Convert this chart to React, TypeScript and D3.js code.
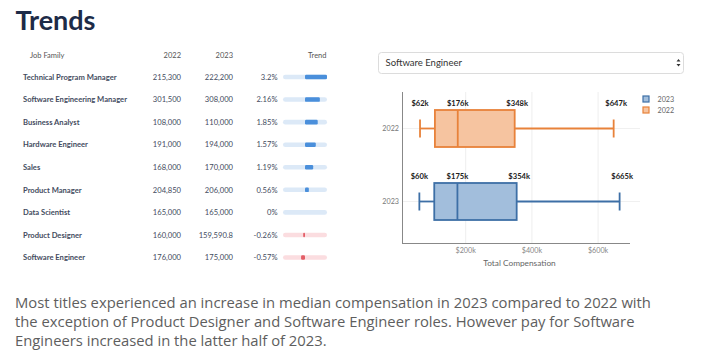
import React from "react";
import * as d3 from "d3";

const jobFamilies = [
  "Technical Program Manager",
  "Software Engineering Manager",
  "Business Analyst",
  "Hardware Engineer",
  "Sales",
  "Product Manager",
  "Data Scientist",
  "Product Designer",
  "Software Engineer",
];
const values2022 = [215300, 301500, 108000, 191000, 168000, 204850, 165000, 160000, 176000];
const values2023 = [222200, 308000, 110000, 194000, 170000, 206000, 165000, 159590.8, 175000];
const pctChanges = [3.2, 2.16, 1.85, 1.57, 1.19, 0.56, 0, -0.26, -0.57];

const boxYears = ["2022", "2023"];
const boxMin = [62, 60];
const boxQ1 = [107, 105];
const boxMedian = [176, 175];
const boxQ3 = [348, 354];
const boxMax = [647, 665];
const xTicks = [200, 400, 600];

const paragraphLines = [
  "Most titles experienced an increase in median compensation in 2023 compared to 2022 with",
  "the exception of Product Designer and Software Engineer roles. However pay for Software",
  "Engineers increased in the latter half of 2023.",
];

const boxColors: Record<string, { stroke: string; fill: string }> = {
  "2022": { stroke: "#e8823a", fill: "#f6c4a0" },
  "2023": { stroke: "#3d6fa6", fill: "#a2bedc" },
};

export default function App() {
  const font = "Lato, 'Open Sans', sans-serif";
  const rowY = d3.scalePoint<string>().domain(jobFamilies).range([77, 257.5]);
  const trend = d3.scaleLinear().domain([-3.2, 3.2]).range([283, 327]);
  const fmt = d3.format(",");

  const x = d3.scaleLinear().domain([0, 700]).range([399.5, 631.2]);
  const y = d3.scalePoint<string>().domain(boxYears).range([92, 238]).padding(0.5);
  const boxH = 37;
  const capH = 18;

  return (
    <div style={{ position: "absolute", left: 0, top: 0 }}>
      <svg width={720} height={355} style={{ display: "block", background: "#fff" }} fontFamily={font}>
        <text x={15.5} y={30} fontSize={27} fontWeight={700} fill="#1d2b48">Trends</text>

        {/* table header */}
        <g fontSize={7.5} fill="#555">
          <text x={30} y={58}>Job Family</text>
          <text x={181} y={58} textAnchor="end">2022</text>
          <text x={233} y={58} textAnchor="end">2023</text>
          <text x={326.5} y={58} textAnchor="end">Trend</text>
        </g>

        {jobFamilies.map((name, i) => {
          const cy = rowY(name)!;
          const v = pctChanges[i];
          const pos = v >= 0;
          const x0 = trend(0);
          const x1 = trend(v);
          return (
            <g key={name}>
              <text x={23} y={cy + 2.8} fontSize={7.6} fontWeight={700} fill="#434b5e">{name}</text>
              <text x={181} y={cy + 2.8} fontSize={7.6} fill="#434b5e" textAnchor="end">{fmt(values2022[i])}</text>
              <text x={233} y={cy + 2.8} fontSize={7.6} fill="#434b5e" textAnchor="end">{fmt(values2023[i])}</text>
              <text x={277.5} y={cy + 2.8} fontSize={7.6} fill="#434b5e" textAnchor="end">{v + "%"}</text>
              <rect x={trend(-3.2)} y={cy - 2.3} width={trend(3.2) - trend(-3.2)} height={4.6} rx={2.3}
                fill={pos ? "#dce9f7" : "#fbdde0"} />
              {v !== 0 && (
                <rect x={Math.min(x0, x1)} y={cy - 2.3} width={Math.max(Math.abs(x1 - x0), 1.6)} height={4.6} rx={1.2}
                  fill={pos ? "#4a8fdb" : "#e35d66"} />
              )}
            </g>
          );
        })}

        {/* select */}
        <rect x={378.5} y={52.5} width={305} height={21} rx={3} fill="#fff" stroke="#dcdcdc" />
        <text x={385.5} y={66.3} fontSize={9.5} fill="#333">Software Engineer</text>
        <path d="M676.5,61.5 L678.5,59 L680.5,61.5 Z M676.5,64 L678.5,66.5 L680.5,64 Z" fill="#333" />

        {/* box plot grid */}
        {xTicks.map((t) => (
          <line key={t} x1={x(t)} x2={x(t)} y1={92} y2={243} stroke="#eeeeee" />
        ))}
        {boxYears.map((yr) => (
          <line key={yr} x1={402} x2={640} y1={y(yr)!} y2={y(yr)!} stroke="#f0f0f0" />
        ))}
        <line x1={402.5} x2={402.5} y1={92} y2={244} stroke="#888" />
        <line x1={402} x2={630} y1={243.5} y2={243.5} stroke="#888" />

        {xTicks.map((t) => (
          <text key={t} x={x(t)} y={252.5} fontSize={7.2} fill="#888" textAnchor="middle">{"$" + t + "k"}</text>
        ))}
        <text x={519.5} y={266} fontSize={8.3} fill="#666" textAnchor="middle">Total Compensation</text>

        {boxYears.map((yr, i) => {
          const cy = y(yr)!;
          const c = boxColors[yr];
          const labelY = cy - boxH / 2 - 4.5;
          return (
            <g key={yr}>
              <text x={399} y={cy + 2.5} fontSize={7.2} fill="#777" textAnchor="end">{yr}</text>
              <line x1={x(boxMin[i])} x2={x(boxQ1[i])} y1={cy} y2={cy} stroke={c.stroke} strokeWidth={1.8} />
              <line x1={x(boxQ3[i])} x2={x(boxMax[i])} y1={cy} y2={cy} stroke={c.stroke} strokeWidth={1.8} />
              <line x1={x(boxMin[i])} x2={x(boxMin[i])} y1={cy - capH / 2} y2={cy + capH / 2} stroke={c.stroke} strokeWidth={1.8} />
              <line x1={x(boxMax[i])} x2={x(boxMax[i])} y1={cy - capH / 2} y2={cy + capH / 2} stroke={c.stroke} strokeWidth={1.8} />
              <rect x={x(boxQ1[i])} y={cy - boxH / 2} width={x(boxQ3[i]) - x(boxQ1[i])} height={boxH}
                fill={c.fill} stroke={c.stroke} strokeWidth={1.8} />
              <line x1={x(boxMedian[i])} x2={x(boxMedian[i])} y1={cy - boxH / 2} y2={cy + boxH / 2} stroke={c.stroke} strokeWidth={1.8} />
              {[boxMin[i], boxMedian[i], boxQ3[i], boxMax[i]].map((v, j) => (
                <text key={j} x={x(v) + (j >= 2 ? 2.5 : 0)} y={labelY} fontSize={7.6} fontWeight={700} fill="#222" textAnchor="middle">
                  {"$" + v + "k"}
                </text>
              ))}
            </g>
          );
        })}

        {/* legend */}
        {["2023", "2022"].map((yr, i) => (
          <g key={yr}>
            <rect x={643} y={96 + i * 11} width={6} height={6} fill={boxColors[yr].fill} stroke={boxColors[yr].stroke} strokeWidth={1.2} />
            <text x={657.5} y={101.8 + i * 11} fontSize={7.2} fill="#666">{yr}</text>
          </g>
        ))}

        {/* paragraph */}
        {paragraphLines.map((line, i) => (
          <text key={i} x={15} y={308 + i * 19} fontSize={14.8} fill="#5e5e5e" fontFamily="'Open Sans', sans-serif">{line}</text>
        ))}
      </svg>
    </div>
  );
}
